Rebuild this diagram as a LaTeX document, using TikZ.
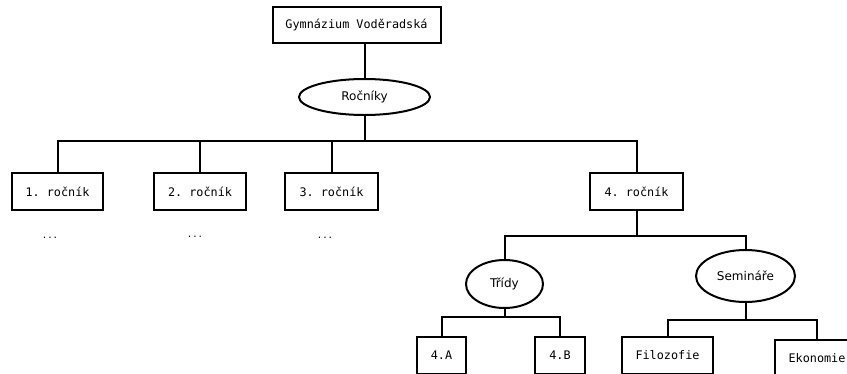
\documentclass[tikz,border=0pt]{standalone}
\usepackage{fontspec}
\setmonofont{DejaVu Sans Mono}
\setsansfont{DejaVu Sans}
\usetikzlibrary{shapes.geometric}

\begin{document}
\begin{tikzpicture}[x=1pt, y=-1pt, line width=2pt,
  box/.style = {draw, minimum height=37pt, inner sep=0pt, font=\ttfamily\fontsize{11.8}{14}\selectfont},
  oval/.style = {draw, ellipse, inner sep=0pt, font=\sffamily\fontsize{12}{14}\selectfont}]
  \useasboundingbox (0,0) rectangle (847,373);

  \node[box, minimum width=168pt, minimum height=36pt] (gym) at (356.5,25) {Gymnázium Voděradská};
  \node[oval, minimum width=131pt, minimum height=36pt] (rocniky) at (364.5,97) {Ročníky};

  \node[box, minimum width=91pt] (r1) at (57.5,191.5)  {1. ročník};
  \node[box, minimum width=92pt] (r2) at (200,191.5)   {2. ročník};
  \node[box, minimum width=93pt] (r3) at (331.5,191.5) {3. ročník};
  \node[box, minimum width=93pt] (r4) at (636.5,191.5) {4. ročník};

  \node[font=\ttfamily\fontsize{9}{11}\selectfont, anchor=base] (d1) at (50,238)  {...};
  \node[font=\ttfamily\fontsize{9}{11}\selectfont, anchor=base] (d2) at (195,237) {...};
  \node[font=\ttfamily\fontsize{9}{11}\selectfont, anchor=base] (d3) at (325,238) {...};

  \node[oval, minimum width=77pt, minimum height=48pt] (tridy)    at (504.5,284) {Třídy};
  \node[oval, minimum width=99pt, minimum height=52pt] (seminare) at (745.5,276) {Semináře};

  \node[box, minimum width=49pt] (ca)   at (441.5,355.5) {4.A};
  \node[box, minimum width=50pt] (cb)   at (560,355.5)   {4.B};
  \node[box, minimum width=91pt] (filo) at (667.5,355.5) {Filozofie};
  \node[box, minimum width=84pt] (eko)  at (817,358.5)   {Ekonomie};

  \coordinate (top) at (364.5,141);
  \coordinate (j4)  at (636.5,236);
  \coordinate (jt)  at (504.5,317);
  \coordinate (js)  at (745.5,320);

  \draw (rocniky.north) -- (rocniky.north |- gym.south);
  \draw (rocniky.south) -- (top);
  \draw (r1.north) |- (top) -| (r4.north);
  \draw (r2.north) -- (r2.north |- top);
  \draw (r3.north) -- (r3.north |- top);

  \draw (r4.south) -- (j4);
  \draw (tridy.north) |- (j4) -| (seminare.north);

  \draw (tridy.south) -- (jt);
  \draw (ca.north) |- (jt) -| (cb.north);

  \draw (seminare.south) -- (js);
  \draw (filo.north) |- (js) -| (eko.north);
\end{tikzpicture}
\end{document}
